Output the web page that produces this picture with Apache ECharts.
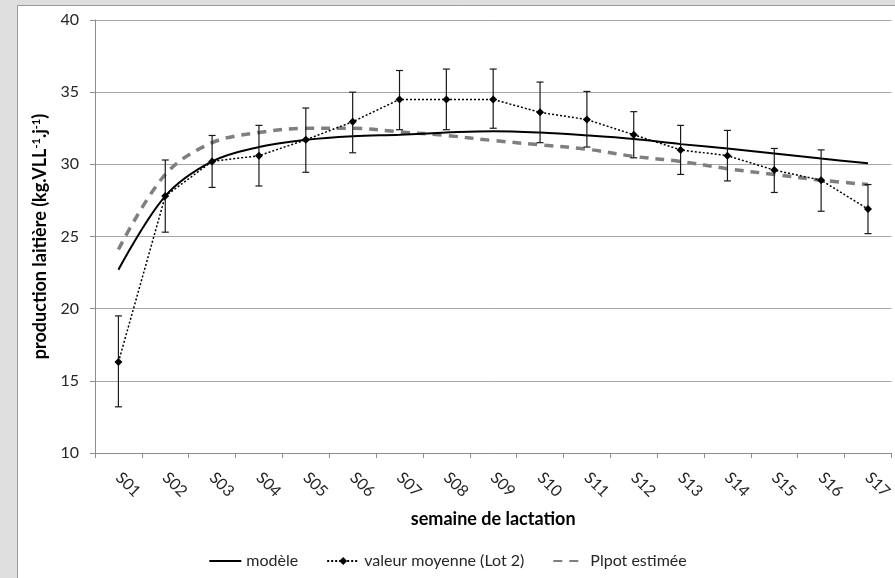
<!DOCTYPE html>
<html>
<head>
<meta charset="utf-8">
<script src="https://cdn.jsdelivr.net/npm/echarts@6/dist/echarts.min.js"></script>
<style>
  html, body { margin: 0; padding: 0; background: #dedede; }
  #chart { width: 895px; height: 578px; }
</style>
</head>
<body>
<div id="chart"></div>
<script>
// Weeks of lactation
const weeks = ['S01','S02','S03','S04','S05','S06','S07','S08','S09','S10','S11','S12','S13','S14','S15','S16','S17'];

// Fitted model curve
const modele = [22.7, 27.8, 30.2, 31.2, 31.7, 31.95, 32.05, 32.2, 32.3, 32.2, 32.0, 31.75, 31.4, 31.1, 30.75, 30.4, 30.07];

// Observed weekly mean (Lot 2) with lower / upper error bounds
const moyenne = [16.3, 27.8, 30.2, 30.6, 31.7, 32.95, 34.5, 34.5, 34.5, 33.6, 33.1, 32.05, 31.0, 30.6, 29.6, 28.9, 26.9];
const errBas  = [13.2, 25.3, 28.4, 28.5, 29.45, 30.8, 32.4, 32.4, 32.5, 31.5, 31.2, 30.45, 29.3, 28.85, 28.05, 26.75, 25.2];
const errHaut = [19.5, 30.3, 32.0, 32.7, 33.9, 35.0, 36.5, 36.6, 36.6, 35.7, 35.05, 33.65, 32.7, 32.35, 31.1, 31.0, 28.6];

// Estimated potential production
const plpot = [24.1, 29.3, 31.5, 32.2, 32.5, 32.5, 32.25, 32.0, 31.65, 31.35, 31.05, 30.55, 30.2, 29.7, 29.3, 28.9, 28.6];

// Y axis ticks
const yMin = 10, yMax = 40, yStep = 5;

const FONT = 'Lato, "Open Sans", sans-serif';
const NO_SYMBOL = { color: 'rgba(0,0,0,0)', borderColor: 'rgba(0,0,0,0)', borderWidth: 0 };

const errData = weeks.map((w, i) => [i, errBas[i], errHaut[i]]);

const chart = echarts.init(document.getElementById('chart'), null, { renderer: 'canvas' });

chart.setOption({
  animation: false,
  backgroundColor: '#dedede',
  textStyle: { fontFamily: FONT },
  graphic: [{
    type: 'rect',
    z: -10,
    silent: true,
    shape: { x: 17.5, y: 5.5, width: 900, height: 600 },
    style: { fill: '#ffffff', stroke: '#9a9a9a', lineWidth: 1 }
  }],
  grid: { left: 95, top: 20, right: 3, bottom: 125 },
  legend: {
    data: [
      { name: 'modèle', itemStyle: NO_SYMBOL },
      { name: 'valeur moyenne (Lot 2)' },
      { name: 'Plpot estimée', itemStyle: NO_SYMBOL }
    ],
    left: 'center',
    top: 548,
    itemWidth: 32,
    itemHeight: 10,
    itemGap: 28,
    textStyle: { fontFamily: FONT, fontSize: 16, color: '#262626' }
  },
  xAxis: {
    type: 'category',
    data: weeks,
    boundaryGap: true,
    axisLine: { lineStyle: { color: '#8c8c8c', width: 1 } },
    axisTick: { show: true, length: 5, lineStyle: { color: '#8c8c8c' } },
    axisLabel: {
      rotate: -45,
      margin: 22,
      fontSize: 16,
      color: '#262626',
      fontFamily: FONT
    },
    name: 'semaine de lactation',
    nameLocation: 'middle',
    nameGap: 57,
    nameTextStyle: { fontSize: 18, fontWeight: 'bold', color: '#000', fontFamily: FONT }
  },
  yAxis: {
    type: 'value',
    min: yMin,
    max: yMax,
    interval: yStep,
    axisLine: { show: true, lineStyle: { color: '#8c8c8c', width: 1 } },
    axisTick: { show: true, length: 5, lineStyle: { color: '#8c8c8c' } },
    splitLine: { lineStyle: { color: '#a6a6a6', width: 1 } },
    axisLabel: { fontSize: 16, color: '#262626', margin: 16, fontFamily: FONT },
    name: '{t|production laitière (kg.VLL}{s|-1}{t|.j}{s|-1}{t|)}',
    nameLocation: 'middle',
    nameRotate: 90,
    nameGap: 43,
    nameTextStyle: {
      rich: {
        t: { fontSize: 18, fontWeight: 'bold', color: '#000', fontFamily: FONT },
        s: { fontSize: 11, fontWeight: 'bold', color: '#000', fontFamily: FONT, padding: [0, 0, 9, 0] }
      }
    }
  },
  series: [
    {
      name: 'modèle',
      type: 'line',
      data: modele,
      smooth: 0.35,
      symbol: 'none',
      lineStyle: { color: '#000', width: 2 },
      itemStyle: { color: '#000' },
      z: 3
    },
    {
      name: 'Plpot estimée',
      type: 'line',
      data: plpot,
      smooth: 0.35,
      symbol: 'none',
      lineStyle: { color: '#7f7f7f', width: 3.5, type: [9, 7] },
      itemStyle: { color: '#7f7f7f' },
      z: 2
    },
    {
      name: 'valeur moyenne (Lot 2)',
      type: 'line',
      data: moyenne,
      symbol: 'diamond',
      symbolSize: 8,
      lineStyle: { color: '#000', width: 1.5, type: [2, 2] },
      itemStyle: { color: '#000' },
      z: 5
    },
    {
      name: 'erreur',
      type: 'custom',
      data: errData,
      z: 4,
      renderItem: function (params, api) {
        const x = api.value(0);
        const lo = api.coord([x, api.value(1)]);
        const hi = api.coord([x, api.value(2)]);
        const hw = 3.5;
        const st = { stroke: '#1a1a1a', lineWidth: 1.2 };
        return {
          type: 'group',
          children: [
            { type: 'line', shape: { x1: lo[0], y1: lo[1], x2: hi[0], y2: hi[1] }, style: st },
            { type: 'line', shape: { x1: lo[0] - hw, y1: lo[1], x2: lo[0] + hw, y2: lo[1] }, style: st },
            { type: 'line', shape: { x1: hi[0] - hw, y1: hi[1], x2: hi[0] + hw, y2: hi[1] }, style: st }
          ]
        };
      }
    }
  ]
});
</script>
</body>
</html>
